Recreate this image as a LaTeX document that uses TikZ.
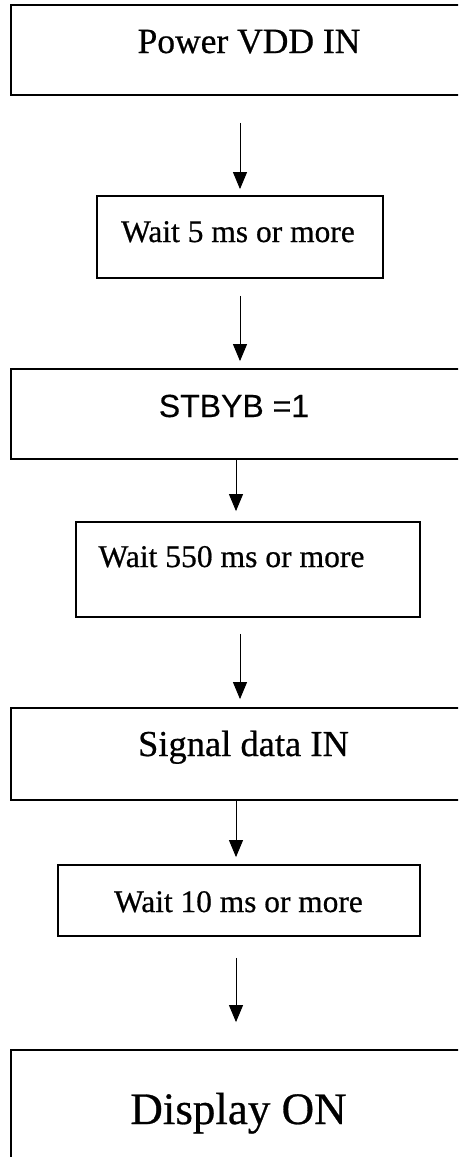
\documentclass[tikz,border=0pt]{standalone}
\usepackage{fontspec}
\setmainfont{Liberation Serif}[FakeBold=0.6]
\newfontfamily\sansf{Liberation Sans}[FakeBold=0.3]
\usetikzlibrary{arrows.meta}
\begin{document}
\begin{tikzpicture}[x=1pt,y=-1pt,
  box/.style={draw=black,line width=1.8pt,inner sep=0pt,rectangle},
  lbl/.style={anchor=base,inner sep=0pt},
  arr/.style={draw=black,line width=0.9pt,-{Triangle[width=14pt,length=17pt]}}]
\clip (0,0) rectangle (458,1157);
\fill[white] (0,0) rectangle (458,1157);
% boxes
\node[box,minimum width=479pt,minimum height=90pt] (b1) at (250.5,50) {};
\node[box,minimum width=286pt,minimum height=82pt] (b2) at (240,237) {};
\node[box,minimum width=479pt,minimum height=90pt] (b3) at (250.5,414) {};
\node[box,minimum width=344pt,minimum height=95pt] (b4) at (248,569.5) {};
\node[box,minimum width=479pt,minimum height=92pt] (b5) at (250.5,754) {};
\node[box,minimum width=362pt,minimum height=71pt] (b6) at (239,900.5) {};
\node[box,minimum width=479pt,minimum height=140pt] (b7) at (250.5,1120) {};
% labels
\node[lbl] (t1) at (249,53) {\fontsize{35.5}{40}\selectfont Power VDD IN};
\node[lbl] (t2) at (238,242) {\fontsize{31.5}{36}\selectfont Wait 5 ms or more};
\node[lbl] (t3) at (234,417) {\sansf\fontsize{32}{36}\selectfont STBYB =1};
\node[lbl] (t4) at (231.5,567) {\fontsize{31.6}{36}\selectfont Wait 550 ms or more};
\node[lbl] (t5) at (243.5,756) {\fontsize{36.5}{40}\selectfont Signal data IN};
\node[lbl] (t6) at (238.5,912) {\fontsize{31.4}{36}\selectfont Wait 10 ms or more};
\node[lbl] (t7) at (238.5,1124) {\fontsize{45}{50}\selectfont Display ON};
% column coordinates
\coordinate (ca) at (240,0);
\coordinate (cb) at (236,0);
% arrows
\draw[arr,shorten <=27pt,shorten >=6pt] (b1.south -| ca) -- (b2.north -| ca);
\draw[arr,shorten <=17pt,shorten >=7pt] (b2.south -| ca) -- (b3.north -| ca);
\draw[arr,shorten <=0pt,shorten >=10pt] (b3.south -| cb) -- (b4.north -| cb);
\draw[arr,shorten <=16pt,shorten >=8pt] (b4.south -| ca) -- (b5.north -| ca);
\draw[arr,shorten <=0pt,shorten >=7pt] (b5.south -| cb) -- (b6.north -| cb);
\draw[arr,shorten <=21pt,shorten >=27pt] (b6.south -| cb) -- (b7.north -| cb);
\end{tikzpicture}
\end{document}
